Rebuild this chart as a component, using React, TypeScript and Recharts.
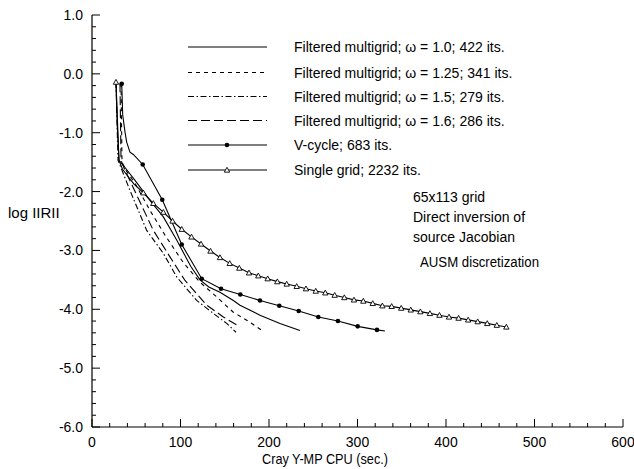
import React from 'react';
import { ComposedChart, Line, Scatter, XAxis, YAxis } from 'recharts';

type P = { x: number; y: number };
const pts = (a: number[][]): P[] => a.map(([x, y]) => ({ x, y }));

// Filtered multigrid, omega = 1.0 (solid)
const omega10 = pts([
  [27.1, -0.14], [30.5, -1.47], [36.2, -1.57], [48.6, -1.81], [65.5, -2.15], [80.6, -2.43],
  [96.0, -2.83], [111.5, -3.27], [122.0, -3.5], [132.0, -3.62], [144.6, -3.71], [159.7, -3.85],
  [167.2, -3.93], [189.8, -4.1], [212.4, -4.24], [235.0, -4.36],
]);
// omega = 1.25 (short dashes)
const omega125 = pts([
  [32.8, -0.16], [33.9, -1.5], [38.4, -1.64], [48.6, -1.86], [65.5, -2.32], [82.5, -2.74],
  [102.8, -3.2], [122.0, -3.54], [140.9, -3.79], [159.7, -4.05], [178.5, -4.22], [193.2, -4.37],
]);
// omega = 1.5 (dash-dot)
const omega15 = pts([
  [27.1, -0.14], [29.4, -1.47], [33.9, -1.64], [42.9, -1.98], [61.8, -2.66], [80.6, -3.05],
  [95.7, -3.45], [118.3, -3.85], [137.1, -4.07], [152.2, -4.24], [162.7, -4.39],
]);
// omega = 1.6 (long dashes)
const omega16 = pts([
  [31.6, -0.16], [32.8, -1.47], [36.2, -1.6], [45.2, -1.89], [69.3, -2.66], [88.1, -3.11],
  [105.1, -3.51], [129.6, -3.93], [148.4, -4.13], [167.2, -4.3],
]);
// V-cycle (filled circles)
const vHead = pts([[33.6, -0.17]]);
const vDrop = pts([[34.7, -0.7], [37.3, -0.99], [39.2, -1.16], [42.9, -1.33], [46.7, -1.37]]);
const vMarked = pts([
  [57.3, -1.54], [79.4, -2.14], [101.4, -2.9], [124.0, -3.48], [145.8, -3.65], [167.6, -3.75],
  [189.8, -3.85], [211.6, -3.94], [233.6, -4.03], [255.7, -4.13], [277.9, -4.2], [300.2, -4.29],
  [322.0, -4.35],
]);
const vTail = pts([[331.0, -4.37]]);
// Single grid (triangles)
const sHead = pts([[27.1, -0.14]]);
const sDrop = pts([[28.6, -0.9], [30.5, -1.47], [34.5, -1.62], [40.5, -1.74], [47.2, -1.87]]);
const sMarked = pts([
  [58.0, -2.02], [69.3, -2.2], [80.6, -2.35], [91.0, -2.5], [101.4, -2.64],
  [112.4, -2.77], [123.2, -2.89], [133.9, -3.01], [144.6, -3.12], [155.6, -3.22], [166.4, -3.3],
  [177.4, -3.38], [187.9, -3.43], [198.5, -3.48], [209.4, -3.53], [220.0, -3.57], [231.3, -3.61],
  [241.8, -3.65], [252.8, -3.69], [263.6, -3.72], [274.2, -3.76], [285.1, -3.8], [296.0, -3.84],
  [306.6, -3.86], [317.2, -3.9], [328.1, -3.94], [338.6, -3.95], [349.4, -3.98], [360.2, -4.01],
  [371.0, -4.04], [381.8, -4.07], [392.6, -4.1], [403.4, -4.13], [414.2, -4.15], [425.0, -4.18],
  [435.8, -4.21], [446.6, -4.24], [457.4, -4.27], [468.2, -4.3],
]);

const vCycle = [...vHead, ...vDrop, ...vMarked, ...vTail];
const vMarkers = [...vHead, ...vMarked];
const singleGrid = [...sHead, ...sDrop, ...sMarked];
const sMarkers = [...sHead, ...sMarked];

const xMajor = [0, 100, 200, 300, 400, 500, 600];
const yMajor = [-6, -5, -4, -3, -2, -1, 0, 1];
const yLabels = ['-6.0', '-5.0', '-4.0', '-3.0', '-2.0', '-1.0', '0.0', '1.0'];

const legendItems = [
  'Filtered multigrid; \u03c9 = 1.0; 422 its.',
  'Filtered multigrid; \u03c9 = 1.25; 341 its.',
  'Filtered multigrid; \u03c9 = 1.5; 279 its.',
  'Filtered multigrid; \u03c9 = 1.6; 286 its.',
  'V-cycle; 683 its.',
  'Single grid; 2232 its.',
];
const notes = ['65x113 grid', 'Direct inversion of', 'source Jacobian', 'AUSM discretization'];
const xTitle = 'Cray Y-MP CPU (sec.)';
const yTitle = 'log IIRII';

const FONT = '"Liberation Sans", Arial, Helvetica, sans-serif';
const dashes = ['', '4 4', '6 2.5 1.5 2.5', '9 4', '', ''];

const xTicks: number[] = [];
for (let i = 0; i < xMajor.length - 1; i++) for (let k = 0; k < 5; k++) xTicks.push(xMajor[i] + k * 20);
xTicks.push(600);
const yTicks: number[] = [];
for (let i = 0; i < yMajor.length - 1; i++) for (let k = 0; k < 5; k++) yTicks.push(yMajor[i] + k * 0.2);
yTicks.push(1);

const XTick = (props: any) => {
  const { x, y, payload } = props;
  const v = payload.value;
  const idx = xMajor.findIndex((m) => Math.abs(m - v) < 1e-6);
  const major = idx >= 0;
  return (
    <g>
      <line x1={x} x2={x} y1={y} y2={y - (major ? 8 : 4)} stroke="#000" strokeWidth={1} />
      {major && (
        <text x={x} y={y + 20} textAnchor="middle" fontFamily={FONT} fontSize={14} fill="#000">
          {String(xMajor[idx])}
        </text>
      )}
    </g>
  );
};

const YTick = (props: any) => {
  const { x, y, payload } = props;
  const v = payload.value;
  const idx = yMajor.findIndex((m) => Math.abs(m - v) < 1e-6);
  const major = idx >= 0;
  return (
    <g>
      <line x1={x} x2={x + (major ? 8 : 4)} y1={y} y2={y} stroke="#000" strokeWidth={1} />
      {major && (
        <text x={x - 9} y={y + 5} textAnchor="end" fontFamily={FONT} fontSize={14} fill="#000">
          {yLabels[idx]}
        </text>
      )}
    </g>
  );
};

const Dot = (props: any) => {
  const { cx, cy } = props;
  if (cx == null || cy == null) return null;
  return <circle cx={cx} cy={cy} r={2.3} fill="#000" />;
};
const Tri = (props: any) => {
  const { cx, cy } = props;
  if (cx == null || cy == null) return null;
  const s = 2.7;
  return (
    <path
      d={`M${cx},${cy - s} L${cx + s},${cy + s * 0.8} L${cx - s},${cy + s * 0.8} Z`}
      fill="#fff"
      stroke="#000"
      strokeWidth={0.9}
    />
  );
};

export default function App() {
  const series = [omega10, omega125, omega15, omega16];
  const legendY = [47, 72.5, 96.5, 120.5, 145, 170];
  return (
    <div style={{ position: 'absolute', left: 0, top: 0, width: 634, height: 469, background: '#fff' }}>
      <ComposedChart width={634} height={469} margin={{ top: 15, right: 11, left: 0, bottom: 0 }}>
        <XAxis
          type="number"
          dataKey="x"
          scale="linear"
          domain={[0, 600]}
          ticks={xTicks}
          interval={0}
          allowDataOverflow
          height={42}
          tickSize={0}
          tickMargin={0}
          tickLine={false}
          tick={<XTick />}
          axisLine={{ stroke: '#000', strokeWidth: 1.2 }}
        />
        <YAxis
          type="number"
          dataKey="y"
          scale="linear"
          domain={[-6, 1]}
          ticks={yTicks}
          interval={0}
          allowDataOverflow
          width={92}
          tickSize={0}
          tickMargin={0}
          tickLine={false}
          tick={<YTick />}
          axisLine={{ stroke: '#000', strokeWidth: 1.2 }}
        />
        {series.map((d, i) => (
          <Line
            key={i}
            data={d}
            dataKey="y"
            type="linear"
            stroke="#000"
            strokeWidth={1.1}
            strokeDasharray={dashes[i] || undefined}
            dot={false}
            activeDot={false}
            isAnimationActive={false}
          />
        ))}
        <Line data={vCycle} dataKey="y" type="linear" stroke="#000" strokeWidth={1.1} dot={false} activeDot={false} isAnimationActive={false} />
        <Line data={singleGrid} dataKey="y" type="linear" stroke="#000" strokeWidth={1.1} dot={false} activeDot={false} isAnimationActive={false} />
        <Scatter data={vMarkers} dataKey="y" shape={<Dot />} isAnimationActive={false} />
        <Scatter data={sMarkers} dataKey="y" shape={<Tri />} isAnimationActive={false} />
      </ComposedChart>
      <svg width={634} height={469} style={{ position: 'absolute', left: 0, top: 0, pointerEvents: 'none' }}>
        {legendItems.map((t, i) => (
          <g key={i}>
            <line x1={188} x2={267} y1={legendY[i]} y2={legendY[i]} stroke="#000" strokeWidth={1.1} strokeDasharray={dashes[i] || undefined} />
            {i === 4 && <Dot cx={227} cy={legendY[i]} />}
            {i === 5 && <Tri cx={227} cy={legendY[i]} />}
            <text x={294} y={legendY[i] + 5} fontFamily={FONT} fontSize={14} fill="#000">{t}</text>
          </g>
        ))}
        {notes.map((t, i) => (
          <text key={t} x={i === 3 ? 420 : 413} y={i === 3 ? 267 : 202 + i * 20} fontFamily={FONT} fontSize={14} fill="#000"
            textLength={i === 3 ? 119 : undefined} lengthAdjust="spacingAndGlyphs">{t}</text>
        ))}
        <text x={262} y={464} fontFamily={FONT} fontSize={14.5} fill="#000" textLength={126} lengthAdjust="spacingAndGlyphs">{xTitle}</text>
        <text x={8} y={218} fontFamily={FONT} fontSize={15} fill="#000">{yTitle}</text>
      </svg>
    </div>
  );
}
